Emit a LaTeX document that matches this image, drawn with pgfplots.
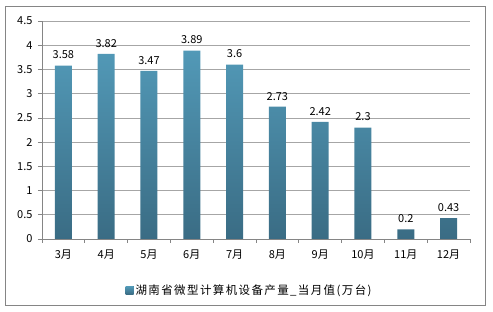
\documentclass[border=0pt]{standalone}
\usepackage{fontspec}
\setmainfont{Noto Sans CJK SC}
\newfontfamily\legfont[LetterSpace=12]{Noto Sans CJK SC}
\usepackage{pgfplots}
\pgfplotsset{compat=1.18}
\definecolor{bartop}{HTML}{5299B7}
\definecolor{barbot}{HTML}{3A6C84}
\definecolor{gridc}{HTML}{A6A6A6}
\begin{document}
\begin{tikzpicture}
\path[use as bounding box] (0pt,0pt) rectangle (493pt,312pt);
\draw[draw=gridc!80!black, line width=0.8pt] (5pt,7pt) rectangle (485pt,306pt);
\begin{axis}[
  at={(42pt,73pt)}, anchor=south west,
  scale only axis, width=428pt, height=218pt,
  xmin=-0.5, xmax=9.5, ymin=0, ymax=4.5,
  ytick={0,0.5,...,4.5},
  xtick={0,...,9},
  xticklabels={3月,4月,5月,6月,7月,8月,9月,10月,11月,12月},
  minor xtick={-0.5,0.5,...,9.5},
  major x tick style={draw=none},
  tick align=outside,
  major tick length=4pt, minor tick length=4pt,
  tick style={gridc!80!black, line width=0.6pt},
  axis x line*=bottom, axis y line*=left,
  axis line style={gridc!80!black, line width=0.6pt, -},
  ymajorgrids, grid style={gridc, line width=0.6pt},
  ticklabel style={font=\fontsize{11}{12}\selectfont, text=black},
  /pgf/number format/assume math mode=true,
  xticklabel style={yshift=-3pt},
  yticklabel style={xshift=-2pt},
  ybar, bar width=17pt,
  nodes near coords,
  every node near coord/.append style={font=\fontsize{11}{12}\selectfont, text=black, yshift=3pt},
  legend style={at={(0.485,-0.195)}, anchor=north, draw=none, font=\legfont\fontsize{11.5}{12}\selectfont, inner sep=1pt},
  legend image code/.code={\fill[barbot!85!bartop] (0pt,-4pt) rectangle (8pt,4pt);},
]
\addplot[draw=none, shade, top color=bartop, bottom color=barbot] coordinates {
(0,3.58) (1,3.82) (2,3.47) (3,3.89) (4,3.6) (5,2.73) (6,2.42) (7,2.3) (8,0.2) (9,0.43)};
\addlegendentry{湖南省微型计算机设备产量\_当月值(万台)}
\end{axis}
\end{tikzpicture}
\end{document}
